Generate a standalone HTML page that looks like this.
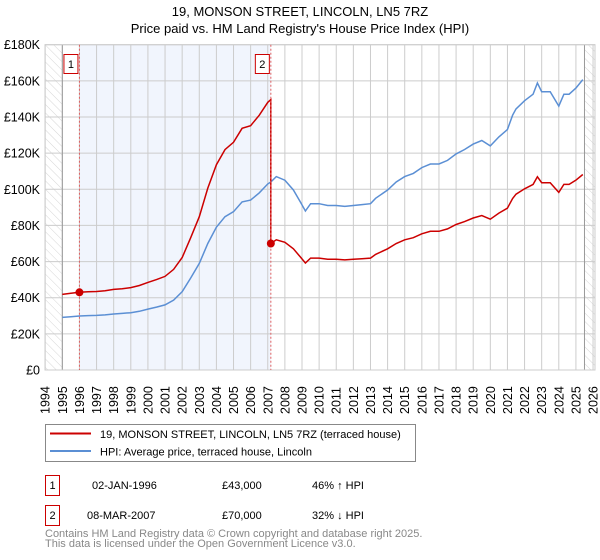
<!DOCTYPE html>
<html><head><meta charset="utf-8"><style>
body{margin:0;background:#fff;}
svg{display:block;font-family:"Liberation Sans","DejaVu Sans",sans-serif;}
</style></head><body>
<svg id="chart" width="600" height="560" viewBox="0 0 600 560">
<defs><pattern id="hatch" width="6" height="6" patternUnits="userSpaceOnUse" patternTransform="rotate(-45)"><line x1="0" y1="0" x2="0" y2="6" stroke="#ccc" stroke-width="0.8"/></pattern></defs>
<text x="300" y="16" text-anchor="middle" font-size="13" fill="#000">19, MONSON STREET, LINCOLN, LN5 7RZ</text>
<text x="300" y="33" text-anchor="middle" font-size="13" fill="#000">Price paid vs. HM Land Registry's House Price Index (HPI)</text>
<g id="plot"></g>
<g>
<rect x="45.5" y="424.5" width="370" height="37" fill="#fff" stroke="#888"/>
<line x1="50" y1="433.5" x2="91" y2="433.5" stroke="#cc0000" stroke-width="2"/>
<text x="100" y="438" font-size="11">19, MONSON STREET, LINCOLN, LN5 7RZ (terraced house)</text>
<line x1="50" y1="451" x2="91" y2="451" stroke="#5b8fd4" stroke-width="2"/>
<text x="100" y="455.5" font-size="11">HPI: Average price, terraced house, Lincoln</text>
</g>
<g font-size="11">
<rect x="45.5" y="475.5" width="14" height="20" fill="#fff" stroke="#cc0000"/>
<text x="52.5" y="489" text-anchor="middle">1</text>
<text x="92" y="489">02-JAN-1996</text><text x="222" y="489">£43,000</text><text x="312" y="489">46% ↑ HPI</text>
<rect x="45.5" y="505.5" width="14" height="20" fill="#fff" stroke="#cc0000"/>
<text x="52.5" y="519" text-anchor="middle">2</text>
<text x="87" y="519">08-MAR-2007</text><text x="222" y="519">£70,000</text><text x="312" y="519">32% ↓ HPI</text>
</g>
<text x="45" y="537" font-size="11" fill="#888">Contains HM Land Registry data © Crown copyright and database right 2025.</text>
<text x="45" y="547" font-size="11" fill="#888">This data is licensed under the Open Government Licence v3.0.</text>
</svg>
<script>
const hpiYears=[1995,1995.5,1996,1996.5,1997,1997.5,1998,1998.5,1999,1999.5,2000,2000.5,2001,2001.5,2002,2002.5,2003,2003.5,2004,2004.5,2005,2005.5,2006,2006.5,2007,2007.18,2007.5,2008,2008.5,2008.9,2009.2,2009.5,2010,2010.5,2011,2011.5,2012,2012.5,2013,2013.3,2014,2014.5,2015,2015.5,2016,2016.5,2017,2017.5,2018,2018.5,2019,2019.5,2020,2020.5,2021,2021.3,2021.5,2022,2022.5,2022.75,2023,2023.5,2024,2024.3,2024.6,2025,2025.4];
const hpiValues=[29100,29500,29900,30100,30200,30500,31000,31300,31700,32500,33700,34800,36000,38700,43300,50900,59000,70000,79000,84800,87600,93000,94000,98000,103000,104000,107000,105000,99600,93000,88000,92000,92000,91000,91000,90500,91000,91500,92000,95000,99600,104000,107000,108800,112000,114000,114000,116000,119600,122000,125000,127000,124000,129000,133000,141000,144500,149000,152600,158800,154000,154000,146000,152600,152600,156000,160700];
const saleYears=[1996.0,2007.18];
const salePrices=[43000,70000];
const saleLabels=["1","2"];
const yTicks=[0,20000,40000,60000,80000,100000,120000,140000,160000,180000];
const yTickLabels=["£0","£20K","£40K","£60K","£80K","£100K","£120K","£140K","£160K","£180K"];
const xTicks=[];for(let y=1994;y<=2026;y++)xTicks.push(y);

const L=45,R=595,T=44.7,B=370;
const X=y=>45.2+(y-1994)*17.12;
const Y=v=>B-(v/180000)*(B-T);
const ns="http://www.w3.org/2000/svg";
const g=document.getElementById('plot');
function mk(t,a,p){const e=document.createElementNS(ns,t);for(const k in a)e.setAttribute(k,a[k]);(p||g).appendChild(e);return e;}

let e=mk('rect',{x:L,y:T,width:X(1995)-L,height:B-T,fill:'url(#hatch)'});


e=mk('rect',{x:X(2025.5),y:T,width:R-X(2025.5),height:B-T,fill:'url(#hatch)'});


e=mk('rect',{x:X(saleYears[0]),y:T,width:X(saleYears[1])-X(saleYears[0]),height:B-T,fill:'#eef3fc',opacity:0.8});



yTicks.forEach((v,i)=>{
  const l=mk('line',{x1:L,x2:R,y1:Y(v),y2:Y(v),stroke:'#ccc','stroke-width':1});
  
  
  const t=mk('text',{x:40,y:Y(v)+4.5,'text-anchor':'end','font-size':12.5});
  t.textContent=yTickLabels[i];
  
  
});
xTicks.forEach(y=>{
  const l=mk('line',{x1:X(y),x2:X(y),y1:T,y2:B,stroke:'#ccc','stroke-width':1});
  
  
  const t=mk('text',{x:0,y:0,'font-size':12.5,transform:`translate(${X(y)+4.5},${B+44}) rotate(-90)`});
  t.textContent=y;
  
  
});
e=mk('line',{x1:X(1995),x2:X(1995),y1:T,y2:B,stroke:'#999'});


e=mk('line',{x1:X(2025.5),x2:X(2025.5),y1:T,y2:B,stroke:'#999'});


e=mk('rect',{x:L,y:T,width:R-L,height:B-T,fill:'none',stroke:'#ccc'});



function hpiAt(y){for(let i=0;i<hpiYears.length-1;i++){if(y<=hpiYears[i+1]){const f=(y-hpiYears[i])/(hpiYears[i+1]-hpiYears[i]);return hpiValues[i]+f*(hpiValues[i+1]-hpiValues[i]);}}return hpiValues[hpiValues.length-1];}

const hp=hpiYears.map((y,i)=>X(y).toFixed(1)+','+Y(hpiValues[i]).toFixed(1)).join(' ');
e=mk('polyline',{points:hp,fill:'none',stroke:'#5b8fd4','stroke-width':1.5});



const pts=[];let jumped=false;
hpiYears.forEach((y,i)=>{
  let s=-1;for(let k=0;k<saleYears.length;k++)if(y>=saleYears[k]-0.001)s=k;
  const base=s<0?0:s;
  const v=hpiValues[i]*salePrices[base]/hpiAt(saleYears[base]);
  if(s===1&&!jumped){const pv=hpiAt(saleYears[1])*salePrices[0]/hpiAt(saleYears[0]);pts.push([X(saleYears[1]),Y(pv)]);pts.push([X(saleYears[1]),Y(salePrices[1])]);jumped=true;}
  if(!(s===1&&Math.abs(y-saleYears[1])<0.01))pts.push([X(y),Y(v)]);
});
e=mk('polyline',{points:pts.map(p=>p[0].toFixed(1)+','+p[1].toFixed(1)).join(' '),fill:'none',stroke:'#cc0000','stroke-width':1.5});



saleYears.forEach((y,i)=>{
  const l=mk('line',{x1:X(y),x2:X(y),y1:T,y2:B,stroke:'#e06060','stroke-dasharray':'2,2','stroke-width':1});
  
  
  const c=mk('circle',{cx:X(y),cy:Y(salePrices[i]),r:4,fill:'#cc0000'});
  
  
  const bx=X(y)-15.5;
  const r=mk('rect',{x:bx,y:54.5,width:14,height:19,fill:'#fff',stroke:'#cc0000'});
  
  
  const t=mk('text',{x:bx+7,y:68,'text-anchor':'middle','font-size':11});
  t.textContent=saleLabels[i];
  
  
});
</script>
</body></html>
